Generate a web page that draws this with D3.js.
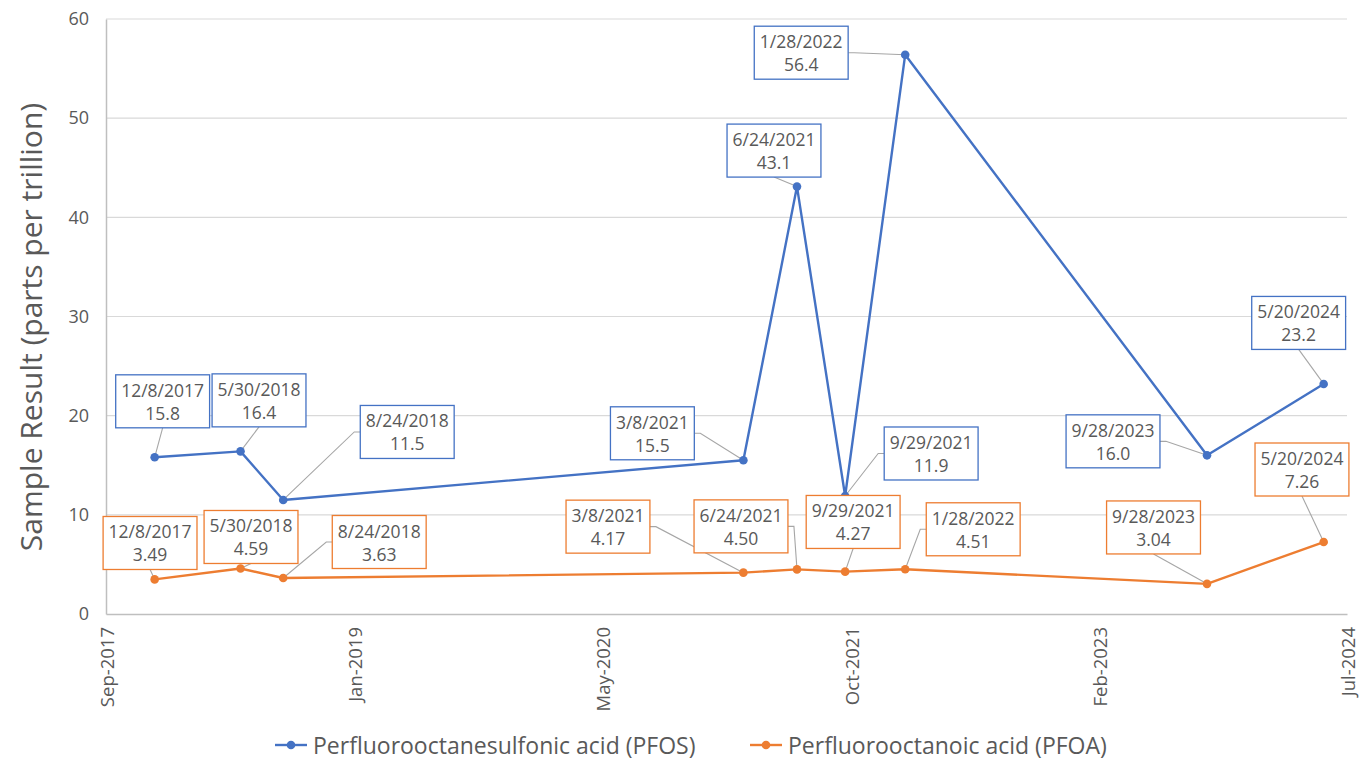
<!DOCTYPE html>
<html>
<head>
<meta charset="utf-8">
<script src="https://cdn.jsdelivr.net/npm/d3@7"></script>
<style>
  html, body { margin: 0; padding: 0; background: #fff; }
  svg { display: block; font-family: "Open Sans", "Noto Sans", sans-serif; }
</style>
</head>
<body>
<svg id="chart" width="1361" height="762"></svg>
<script>
// ---------------- data ----------------
const sampleDates = ["2017-12-08","2018-05-30","2018-08-24","2021-03-08","2021-06-24","2021-09-29","2022-01-28","2023-09-28","2024-05-20"];
const dateLabels  = ["12/8/2017","5/30/2018","8/24/2018","3/8/2021","6/24/2021","9/29/2021","1/28/2022","9/28/2023","5/20/2024"];
const pfosValues  = [15.8, 16.4, 11.5, 15.5, 43.1, 11.9, 56.4, 16.0, 23.2];
const pfoaValues  = [3.49, 4.59, 3.63, 4.17, 4.50, 4.27, 4.51, 3.04, 7.26];
const seriesNames = ["Perfluorooctanesulfonic acid (PFOS)", "Perfluorooctanoic acid (PFOA)"];
const yTicks      = [0, 10, 20, 30, 40, 50, 60];
const xTickLabels = ["Sep-2017","Jan-2019","May-2020","Oct-2021","Feb-2023","Jul-2024"];
const xAxisMin    = "2017-09-01";
const xMajorDays  = 500;
const yTitle      = "Sample Result (parts per trillion)";

// ---------------- layout (label box offsets from point, attach side) ----------------
const pfosLabelLayout = [
  {dx: 8, dy: -56, side: "bottom"},
  {dx: 18.5, dy: -51, side: "bottom"},
  {dx: 124, dy: -68, side: "left"},
  {dx: -91, dy: -27, side: "right"},
  {dx: -23, dy: -36, side: "bottom"},
  {dx: 86, dy: -42.5, side: "left"},
  {dx: -104, dy: -2, side: "right"},
  {dx: -94, dy: -14, side: "right"},
  {dx: -25, dy: -61, side: "bottom"}
];
const pfoaLabelLayout = [
  {dx: -4.6, dy: -36.4, side: "bottom"},
  {dx: 10.5, dy: -31.5, side: "bottom"},
  {dx: 96, dy: -36, side: "left"},
  {dx: -135.4, dy: -46, side: "right"},
  {dx: -56, dy: -43, side: "right"},
  {dx: 8, dy: -49.7, side: "bottom"},
  {dx: 68, dy: -40, side: "left"},
  {dx: -53.5, dy: -56.4, side: "bottom"},
  {dx: -21.7, dy: -72.5, side: "bottom"}
];

const colors = {pfos: "#4472C4", pfoa: "#ED7D31", text: "#595959", grid: "#D9D9D9", axis: "#BFBFBF", leader: "#A6A6A6"};

// ---------------- chart ----------------
const svg = d3.select("#chart");
const W = 1361, H = 762;
svg.append("rect").attr("width", W).attr("height", H).attr("fill", "#fff");

const plot = {left: 106, right: 1347, top: 19, bottom: 614};
const parse = d3.utcParse("%Y-%m-%d");
const xMin = parse(xAxisMin);
const xMax = d3.utcDay.offset(xMin, xMajorDays * (xTickLabels.length - 1));
const x = d3.scaleUtc().domain([xMin, xMax]).range([plot.left, plot.right]);
const y = d3.scaleLinear().domain([0, 60]).range([plot.bottom, plot.top]);
const xTickVals = xTickLabels.map((_, i) => d3.utcDay.offset(xMin, i * xMajorDays));

// gridlines
svg.append("g")
  .selectAll("line").data(yTicks.filter(d => d > 0)).join("line")
  .attr("x1", plot.left).attr("x2", plot.right)
  .attr("y1", d => y(d)).attr("y2", d => y(d))
  .attr("stroke", colors.grid).attr("stroke-width", 1.2);

// y axis
const yAxis = svg.append("g").attr("transform", `translate(${plot.left},0)`)
  .call(d3.axisLeft(y).tickValues(yTicks).tickSize(0).tickPadding(17));
yAxis.select(".domain").attr("stroke", colors.axis).attr("stroke-width", 1.5);
yAxis.selectAll("text").attr("fill", colors.text).style("font-size", "18px")
  .style("font-family", "'Open Sans', sans-serif");

// x axis
const xAxis = svg.append("g").attr("transform", `translate(0,${plot.bottom})`)
  .call(d3.axisBottom(x).tickValues(xTickVals).tickFormat((d, i) => xTickLabels[i]).tickSize(0));
xAxis.select(".domain").attr("stroke", colors.axis).attr("stroke-width", 1.5);
xAxis.selectAll("text")
  .attr("fill", colors.text).style("font-size", "18.5px").style("font-family", "'Open Sans', sans-serif")
  .attr("text-anchor", "end").attr("dy", null).attr("y", 0)
  .attr("dominant-baseline", "central")
  .attr("transform", "translate(0,13) rotate(-90)");

// y title
svg.append("text")
  .attr("transform", `translate(30,327) rotate(-90)`)
  .attr("text-anchor", "middle").attr("dominant-baseline", "central")
  .attr("fill", colors.text).style("font-size", "30px")
  .text(yTitle);

const series = [
  {key: "pfos", values: pfosValues, layout: pfosLabelLayout, fmt: d3.format(".1f"), color: colors.pfos},
  {key: "pfoa", values: pfoaValues, layout: pfoaLabelLayout, fmt: d3.format(".2f"), color: colors.pfoa}
];
series.forEach(s => {
  s.points = s.values.map((v, i) => ({date: parse(sampleDates[i]), value: v, label: dateLabels[i], i}));
});

const gLeaders = svg.append("g");
const gLines = svg.append("g");
const gMarkers = svg.append("g");
const gLabels = svg.append("g");

const line = d3.line().x(d => x(d.date)).y(d => y(d.value));

series.forEach(s => {
  gLines.append("path").datum(s.points)
    .attr("d", line).attr("fill", "none")
    .attr("stroke", s.color).attr("stroke-width", 2.4).attr("stroke-linejoin", "round");
  gMarkers.selectAll(null).data(s.points).join("circle")
    .attr("cx", d => x(d.date)).attr("cy", d => y(d.value)).attr("r", 4.3)
    .attr("fill", s.color);

  s.points.forEach(p => {
    const L = s.layout[p.i];
    const px = x(p.date), py = y(p.value);
    const cx = px + L.dx, cy = py + L.dy;
    const g = gLabels.append("g");
    const t1 = g.append("text").attr("x", cx).attr("y", cy - 4.5).attr("text-anchor", "middle")
      .attr("fill", colors.text).style("font-size", "17.5px").text(p.label);
    const t2 = g.append("text").attr("x", cx).attr("y", cy + 18.5).attr("text-anchor", "middle")
      .attr("fill", colors.text).style("font-size", "17.5px").text(s.fmt(p.value));
    const tw = Math.max(t1.node().getComputedTextLength(), t2.node().getComputedTextLength());
    const bw = tw + 11, bh = 53;
    g.insert("rect", "text")
      .attr("x", cx - bw / 2).attr("y", cy - bh / 2).attr("width", bw).attr("height", bh)
      .attr("fill", "#fff").attr("stroke", s.color).attr("stroke-width", 1.3);
    let pts;
    if (L.side === "bottom") pts = [[cx, cy + bh / 2], [px, py]];
    else if (L.side === "left") pts = [[cx - bw / 2, cy], [cx - bw / 2 - 6, cy], [px, py]];
    else pts = [[cx + bw / 2, cy], [cx + bw / 2 + 6, cy], [px, py]];
    gLeaders.append("path").attr("d", d3.line()(pts)).attr("fill", "none")
      .attr("stroke", colors.leader).attr("stroke-width", 1.1);
  });
});

// legend
const legend = svg.append("g").attr("transform", "translate(0,745)");
const legendItems = [{x: 275, name: seriesNames[0], color: colors.pfos}, {x: 750, name: seriesNames[1], color: colors.pfoa}];
legendItems.forEach(it => {
  legend.append("line").attr("x1", it.x).attr("x2", it.x + 32).attr("y1", 0).attr("y2", 0)
    .attr("stroke", it.color).attr("stroke-width", 2.4);
  legend.append("circle").attr("cx", it.x + 16).attr("cy", 0).attr("r", 4.3).attr("fill", it.color);
  legend.append("text").attr("x", it.x + 38).attr("y", 0).attr("dominant-baseline", "central")
    .attr("fill", colors.text).style("font-size", "23px").text(it.name);
});
</script>
</body>
</html>
